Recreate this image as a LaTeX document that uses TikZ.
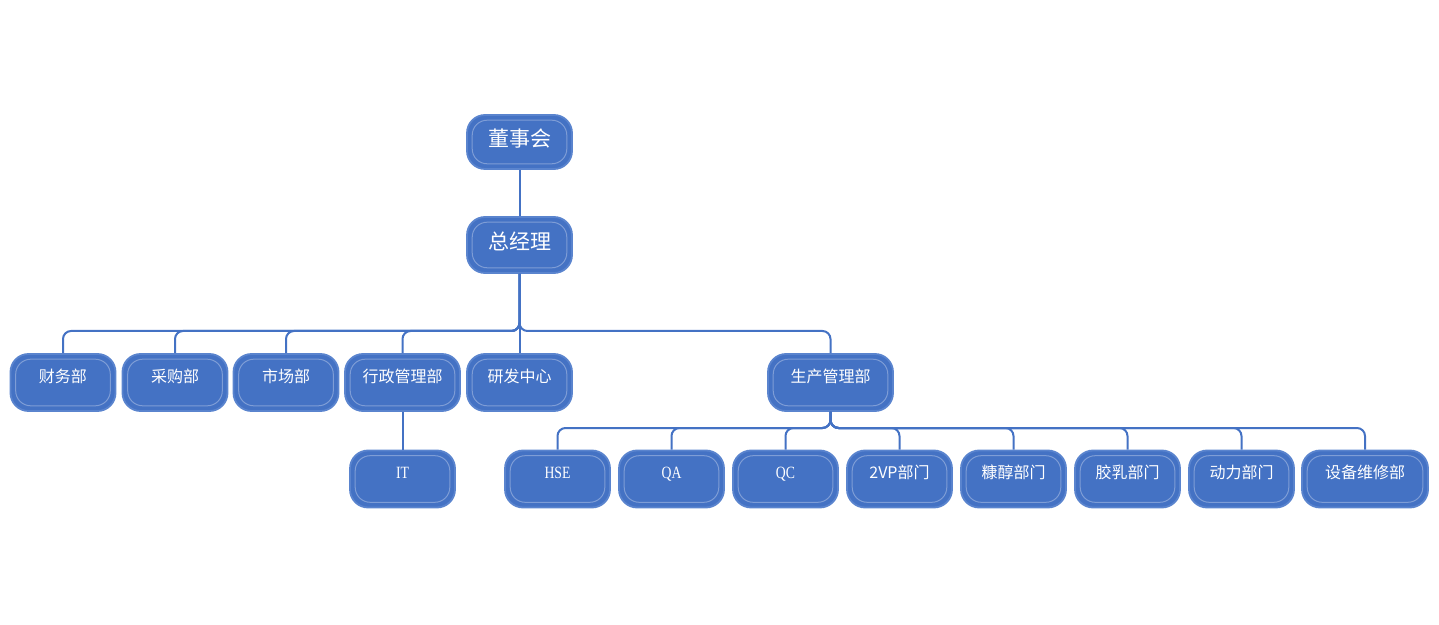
\documentclass[tikz,border=0pt]{standalone}
\usepackage{fontspec}
\setmainfont{Noto Sans CJK SC}
\newfontfamily\latinserif[FakeStretch=0.8]{Liberation Serif}
\usetikzlibrary{calc}
\definecolor{boxfill}{HTML}{4472C4}
\definecolor{boxedge}{HTML}{5A84CE}
\definecolor{boxinner}{HTML}{7E9DD6}
\definecolor{linkcol}{HTML}{4472C4}
\tikzset{
  unit/.style={draw=boxedge, line width=0.9pt, fill=boxfill, rounded corners=9pt,
    text=white, minimum width=52.5pt, inner xsep=2pt, inner ysep=0pt,
    text height=14.15pt, text depth=14.35pt, font=\fontsize{8}{8}\selectfont,
    path picture={\draw[boxinner, line width=0.5pt, rounded corners=7.5pt]
      ([shift={(2.6pt,-2.6pt)}]path picture bounding box.north west) rectangle
      ([shift={(-2.6pt,2.6pt)}]path picture bounding box.south east);}},
  head/.style={unit, font=\fontsize{10.5}{10.5}\selectfont},
  code/.style={unit, font=\latinserif\fontsize{8.6}{8.6}\selectfont},
  link/.style={draw=linkcol, line width=1pt, rounded corners=4pt},
}
\begin{document}
\begin{tikzpicture}[x=0.5pt,y=-0.5pt]
    \useasboundingbox (0,0) rectangle (1439,625);
    \draw
    (519.5,142) node[head,text height=16pt,text depth=11pt](dsh){董事会}
    (519.5,245) node[head,text height=16.5pt,text depth=11.5pt](zjl){总经理}
    (63,382.5) node[unit](cw){财务部}
    (175,382.5) node[unit](cg){采购部}
    (286,382.5) node[unit](sc){市场部}
    (402.5,382.5) node[unit,minimum width=57.5pt](xz){行政管理部}
    (519.5,382.5) node[unit](yf){研发中心}
    (830.5,382.5) node[unit,minimum width=62.5pt](sg){生产管理部}
    (402.5,479) node[code](it){IT}
    (557.5,479) node[code](hse){HSE}
    (671.5,479) node[code](qa){QA}
    (785.5,479) node[code](qc){QC}
    (899.5,479) node[unit](vp){2VP部门}
    (1013.5,479) node[unit](kc){糠醇部门}
    (1127.5,479) node[unit](jr){胶乳部门}
    (1241.5,479) node[unit](dl){动力部门}
    (1365,479) node[unit,minimum width=63pt](sb){设备维修部};
    \coordinate (busA) at (0,331);
    \coordinate (busB) at (0,428);
    \draw[link] (dsh) -- (zjl)
                (zjl) -- (yf)
                (xz) -- (it);
    \foreach \c in {cw,cg,sc,xz,sg}
      \draw[link] (zjl.south) |- (\c.north |- busA) -- (\c.north);
    \foreach \c in {hse,qa,qc,vp,kc,jr,dl,sb}
      \draw[link] (sg.south) |- (\c.north |- busB) -- (\c.north);
  \end{tikzpicture}
\end{document}
